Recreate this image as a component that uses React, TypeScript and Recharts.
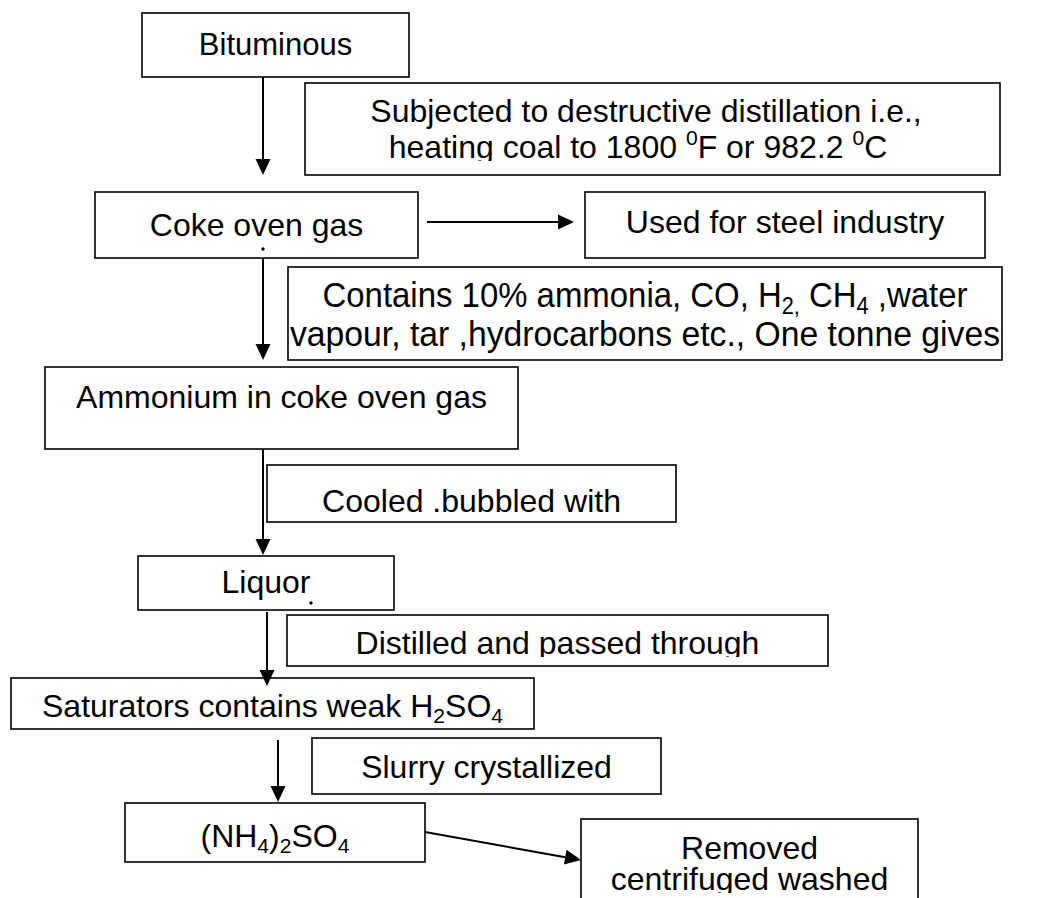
import React from 'react';
import { ScatterChart, XAxis, YAxis, ReferenceArea, ReferenceLine, Scatter } from 'recharts';

document.body.style.margin = '0';

const W = 1042;
const H = 898;

// flowchart nodes, in page pixels (x to the right, y downwards)
const boxes = [
  { id: 'bituminous', x1: 142, x2: 409, y1: 13, y2: 77 },
  { id: 'subjected', x1: 305, x2: 1000, y1: 83, y2: 175 },
  { id: 'coke', x1: 95, x2: 418, y1: 192, y2: 258 },
  { id: 'steel', x1: 585, x2: 985, y1: 192, y2: 258 },
  { id: 'contains', x1: 288, x2: 1002, y1: 267, y2: 360 },
  { id: 'ammonium', x1: 45, x2: 518, y1: 367, y2: 449 },
  { id: 'cooled', x1: 267, x2: 676, y1: 465, y2: 522 },
  { id: 'liquor', x1: 138, x2: 394, y1: 556, y2: 610 },
  { id: 'distilled', x1: 287, x2: 828, y1: 615, y2: 666 },
  { id: 'saturators', x1: 11, x2: 534, y1: 678, y2: 729 },
  { id: 'slurry', x1: 312, x2: 661, y1: 738, y2: 794 },
  { id: 'sulphate', x1: 125, x2: 425, y1: 803, y2: 862 },
  { id: 'removed', x1: 581, x2: 918, y1: 819, y2: 930 },
];

// text lines; _{..} subscript, ^{..} superscript; y = baseline
const labels = [
  { box: 'bituminous', text: 'Bituminous', y: 55 },
  { box: 'subjected', text: 'Subjected to destructive distillation i.e.,', x: 646, y: 122 },
  { box: 'subjected', text: 'heating coal to 1800 ^{0}F or 982.2 ^{0}C', x: 638, y: 158 },
  { box: 'coke', text: 'Coke oven gas', y: 236 },
  { box: 'steel', text: 'Used for steel industry', y: 233 },
  { box: 'contains', text: 'Contains 10% ammonia, CO, H_{2,} CH_{4} ,water', x: 645, y: 307, width: 645 },
  { box: 'contains', text: 'vapour, tar ,hydrocarbons etc., One tonne gives', x: 645, y: 346, width: 710 },
  { box: 'ammonium', text: 'Ammonium in coke oven gas', y: 408 },
  { box: 'cooled', text: 'Cooled .bubbled with', y: 512 },
  { box: 'liquor', text: 'Liquor', y: 593 },
  { box: 'distilled', text: 'Distilled and passed through', y: 654 },
  { box: 'saturators', text: 'Saturators contains weak H_{2}SO_{4}', y: 717 },
  { box: 'slurry', text: 'Slurry crystallized', y: 778 },
  { box: 'sulphate', text: '(NH_{4})_{2}SO_{4}', y: 847 },
  { box: 'removed', text: 'Removed', y: 859 },
  { box: 'removed', text: 'centrifuged washed', y: 890 },
];

// where the text frame cuts the text off
const textClips = [
  { box: 'subjected', y: 161 },
  { box: 'distilled', y: 657 },
  { box: 'saturators', y: 723 },
  { box: 'removed', y: 893 },
];

const arrows = [
  { x1: 263, y1: 77, x2: 263, y2: 175 },
  { x1: 427, y1: 222, x2: 574, y2: 222 },
  { x1: 263, y1: 258, x2: 263, y2: 360 },
  { x1: 263, y1: 449, x2: 263, y2: 555 },
  { x1: 267, y1: 612, x2: 267, y2: 686 },
  { x1: 278, y1: 740, x2: 278, y2: 802 },
  { x1: 425, y1: 832, x2: 581, y2: 860 },
];

// stray full stops in the original
const dots = [
  { x: 263, y: 249 },
  { x: 311, y: 603 },
];

const fontSizes: Record<string, number> = { bituminous: 31, contains: 35 };
const FONT = '"Liberation Sans", Arial, Helvetica, sans-serif';

function rich(text: string, size: number) {
  const re = /([_^])\{([^}]*)\}/g;
  const parts: { t: string; s: number }[] = [];
  let last = 0;
  let m: RegExpExecArray | null;
  while ((m = re.exec(text))) {
    if (m.index > last) parts.push({ t: text.slice(last, m.index), s: 0 });
    parts.push({ t: m[2], s: m[1] === '_' ? 1 : -1 });
    last = re.lastIndex;
  }
  if (last < text.length) parts.push({ t: text.slice(last), s: 0 });
  let cur = 0;
  return parts.map((p, i) => {
    const target = p.s === 1 ? size * 0.2 : p.s === -1 ? -size * 0.42 : 0;
    const dy = target - cur;
    cur = target;
    return (
      <tspan key={i} dy={dy} fontSize={p.s ? size * 0.66 : size}>
        {p.t}
      </tspan>
    );
  });
}

const NodeBox = (props: any) => {
  const { x, y, width, height, box } = props;
  const sx = width / (box.x2 - box.x1);
  const sy = height / (box.y2 - box.y1);
  const size = fontSizes[box.id] || 32;
  const clip = textClips.find((c) => c.box === box.id);
  const clipId = `clip-${box.id}`;
  const lines = labels.filter((l) => l.box === box.id);
  return (
    <g>
      <rect x={x} y={y} width={width} height={height} fill="#fff" stroke="#000" strokeWidth={1.6} />
      {clip && (
        <defs>
          <clipPath id={clipId}>
            <rect x={x} y={y} width={width} height={(clip.y - box.y1) * sy} />
          </clipPath>
        </defs>
      )}
      <g clipPath={clip ? `url(#${clipId})` : undefined}>
        {lines.map((l: any, i) => (
          <text
            key={i}
            x={l.x != null ? x + (l.x - box.x1) * sx : x + width / 2}
            y={y + (l.y - box.y1) * sy}
            textAnchor="middle"
            fontFamily={FONT}
            fontSize={size}
            fill="#000"
            style={{ whiteSpace: 'pre' }}
            textLength={l.width}
            lengthAdjust={l.width ? 'spacingAndGlyphs' : undefined}
          >
            {rich(l.text, size)}
          </text>
        ))}
      </g>
    </g>
  );
};

const Arrow = (props: any) => {
  const { x1, y1, x2, y2 } = props;
  const len = Math.hypot(x2 - x1, y2 - y1) || 1;
  const ux = (x2 - x1) / len;
  const uy = (y2 - y1) / len;
  const headL = 16;
  const headW = 7.5;
  const bx = x2 - ux * headL;
  const by = y2 - uy * headL;
  const pts = `${x2},${y2} ${bx - uy * headW},${by + ux * headW} ${bx + uy * headW},${by - ux * headW}`;
  return (
    <g>
      <line x1={x1} y1={y1} x2={bx} y2={by} stroke="#000" strokeWidth={2} />
      <polygon points={pts} fill="#000" />
    </g>
  );
};

const Dot = (props: any) => <circle cx={props.cx} cy={props.cy} r={1.7} fill="#000" />;

export default function App() {
  return (
    <div style={{ width: W, height: H, overflow: 'hidden', background: '#fff' }}>
      <ScatterChart width={W} height={H} margin={{ top: 0, right: 0, bottom: 0, left: 0 }}>
        <XAxis type="number" dataKey="x" domain={[0, W]} hide allowDataOverflow />
        <YAxis type="number" dataKey="y" domain={[0, H]} reversed hide allowDataOverflow />
        {arrows.map((a, i) => (
          <ReferenceLine
            key={`a${i}`}
            segment={[{ x: a.x1, y: a.y1 }, { x: a.x2, y: a.y2 }]}
            ifOverflow="visible"
            shape={(p: any) => <Arrow {...p} />}
          />
        ))}
        {boxes.map((b) => (
          <ReferenceArea
            key={b.id}
            x1={b.x1}
            x2={b.x2}
            y1={b.y1}
            y2={b.y2}
            ifOverflow="visible"
            shape={(p: any) => <NodeBox {...p} box={b} />}
          />
        ))}
        <Scatter data={dots} shape={<Dot />} isAnimationActive={false} />
      </ScatterChart>
    </div>
  );
}
